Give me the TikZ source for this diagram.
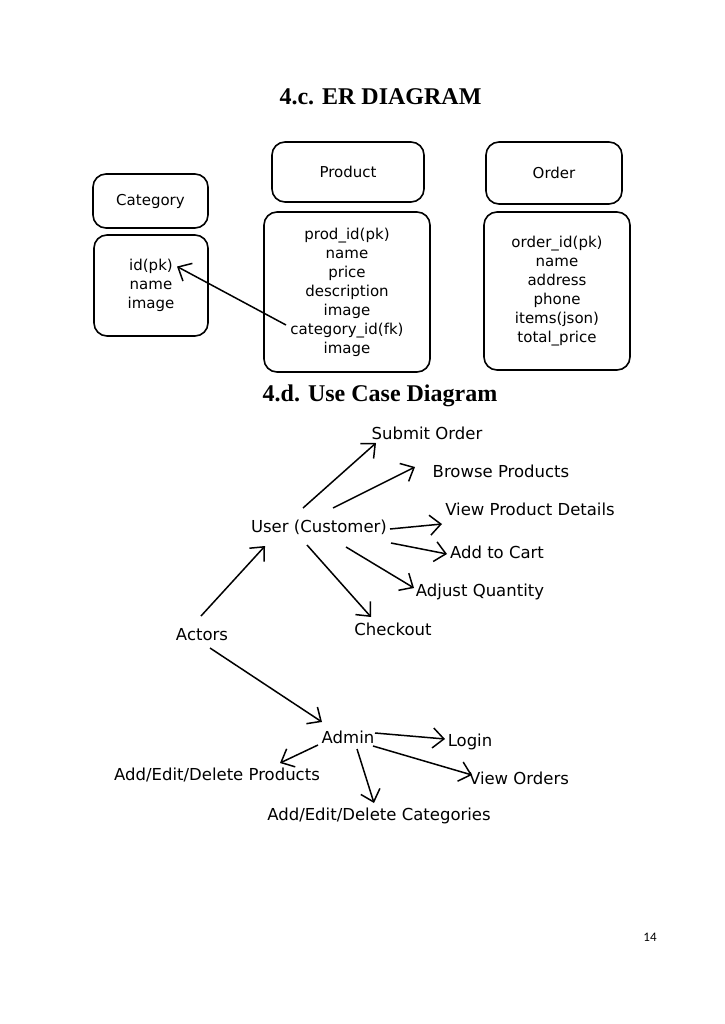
\documentclass[tikz,border=0pt]{standalone}
\usepackage{fontspec}
\setmainfont{DejaVu Sans}
\newfontfamily\titlefont{Liberation Serif}
\newfontfamily\pagefont{Carlito}
\usetikzlibrary{arrows.meta}
\begin{document}
\begin{tikzpicture}[x=1pt,y=-1pt,
  box/.style={draw, line width=1.6pt, rounded corners=13pt, inner sep=0pt},
  ertext/.style={font=\fontsize{15}{19}\selectfont, align=center},
  uc/.style={font=\fontsize{16.5}{19}\selectfont, inner sep=1pt},
  ttl/.style={font=\titlefont\bfseries\fontsize{24}{28}\selectfont},
  arr/.style={line width=1.5pt, -{Straight Barb[length=11pt,width=20pt,line width=1.5pt]}}]
\useasboundingbox[fill=white] (0,0) rectangle (724,1024);

% titles
\node[ttl] (t1) at (380.5,97) {4.c. ER DIAGRAM};
\node[ttl] (t2) at (380,396) {4.d. Use Case Diagram};

% ER boxes
\node[box, ertext, minimum width=115, minimum height=54] (cath) at (150.5,201) {Category};
\node[box, ertext, minimum width=114, minimum height=101] (catb) at (151,285.5) {id(pk)\\name\\image};
\node[box, ertext, minimum width=152, minimum height=60] (prodh) at (348,172) {Product};
\node[box, ertext, minimum width=166, minimum height=160] (prodb) at (347,292) {prod\_id(pk)\\name\\price\\description\\image\\category\_id(fk)\\image};
\node[box, ertext, minimum width=136, minimum height=62] (ordh) at (554,173) {Order};
\node[box, ertext, minimum width=146, minimum height=158] (ordb) at (557,291) {order\_id(pk)\\name\\address\\phone\\items(json)\\total\_price};

\draw[arr] ([shift={(-61,33)}]prodb.center) -- ([shift={(26,-19)}]catb.center);

% use case nodes
\node[uc] (submit) at (427,433) {Submit Order};
\node[uc] (browse) at (501,471) {Browse Products};
\node[uc] (viewpd) at (530,509) {View Product Details};
\node[uc] (user) at (319,527) {User (Customer)};
\node[uc] (cart) at (497,552) {Add to Cart};
\node[uc] (adjust) at (480,592) {Adjust Quantity};
\node[uc] (checkout) at (393,629) {Checkout};
\node[uc] (actors) at (202,635) {Actors};
\node[uc] (admin) at (348,737) {Admin};
\node[uc] (login) at (470,742) {Login};
\node[uc] (vieword) at (519,778) {View Orders};
\node[uc] (adprod) at (217,775) {Add/Edit/Delete Products};
\node[uc] (adcat) at (379,816) {Add/Edit/Delete Categories};

% use case connectors
\draw[arr] ([shift={(-16,-19)}]user.center) -- ([shift={(-51,10)}]submit.center);
\draw[arr] ([shift={(14,-19)}]user.center) -- ([shift={(-86,-4)}]browse.center);
\draw[arr] ([shift={(71,2)}]user.center) -- ([shift={(-88,15)}]viewpd.center);
\draw[arr] ([shift={(72,16)}]user.center) -- ([shift={(-50,2)}]cart.center);
\draw[arr] ([shift={(27,20)}]user.center) -- ([shift={(-66,-4)}]adjust.center);
\draw[arr] ([shift={(-12,18)}]user.center) -- ([shift={(-22,-12)}]checkout.center);
\draw[arr] ([shift={(-1,-19)}]actors.center) -- ([shift={(-54,19)}]user.center);
\draw[arr] ([shift={(8,13)}]actors.center) -- ([shift={(-26,-15)}]admin.center);
\draw[arr] ([shift={(27,-4)}]admin.center) -- ([shift={(-25,-3)}]login.center);
\draw[arr] ([shift={(25,9)}]admin.center) -- ([shift={(-47,-3)}]vieword.center);
\draw[arr] ([shift={(-30,8)}]admin.center) -- ([shift={(63,-12)}]adprod.center);
\draw[arr] ([shift={(9,12)}]admin.center) -- ([shift={(-5,-13)}]adcat.center);

% page number
\node[font=\pagefont\fontsize{13}{15}\selectfont] (pg) at (650,937) {14};
\end{tikzpicture}
\end{document}
